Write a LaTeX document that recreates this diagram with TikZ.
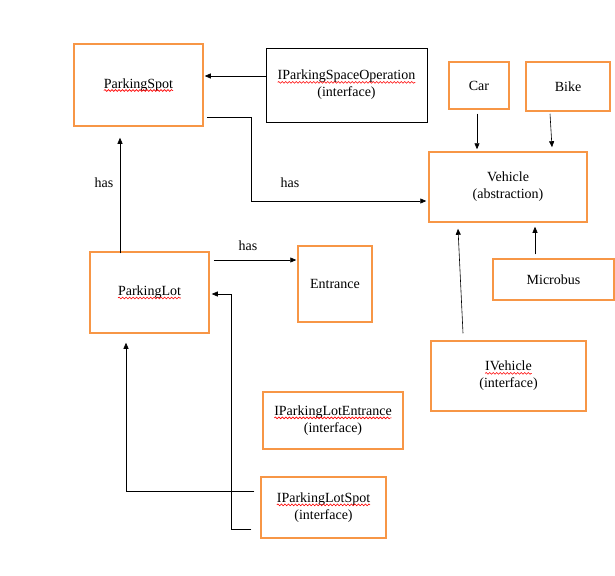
\documentclass[tikz,border=0pt]{standalone}
\usepackage{fontspec}
\setmainfont{Liberation Serif}
\usepackage{tikz}
\usetikzlibrary{arrows.meta,decorations.pathmorphing}
\definecolor{boxorange}{HTML}{F79646}
% red wavy line of the spell checker
\newcommand{\squig}[1]{\tikz[baseline=(w.base),x=1pt,y=1pt]{\node[shape=rectangle,draw=none,inner sep=0pt,outer sep=0pt,minimum width=0pt,minimum height=0pt] (w) {#1};
	\draw[red,line width=0.6pt,decorate,decoration={snake,amplitude=0.9pt,segment length=3.5pt}] ([yshift=-2.5pt]w.base west) -- ([yshift=-2.5pt]w.base east);}}

\begin{document}
\begin{tikzpicture}[x=1pt,y=-1pt,
	cls/.style={shape=rectangle,draw=boxorange,line width=1.5pt,align=center,inner sep=0pt,font=\fontsize{14}{17}\selectfont},
	ifc/.style={shape=rectangle,draw=black,line width=0.8pt,align=center,inner sep=0pt,font=\fontsize{14}{17}\selectfont},
	rel/.style={-{Triangle[length=6pt,width=5pt]},line width=0.6pt,black},
	lbl/.style={font=\fontsize{14}{16}\selectfont,inner sep=0pt}]
	\useasboundingbox (0,0) rectangle (615,575);
	
	\node[cls,minimum width=129,minimum height=82] (spot) at (138.5,85) {\squig{ParkingSpot}};
	\node[ifc,minimum width=161,minimum height=74] (spaceop) at (346.5,85) {\squig{IParkingSpaceOperation}\\(interface)};
	\node[cls,minimum width=60,minimum height=47] (car) at (479,85.5) {Car};
	\node[cls,minimum width=84,minimum height=49] (bike) at (568,86.5) {Bike};
	\node[cls,minimum width=158,minimum height=70] (vehicle) at (508,187) {Vehicle\\(abstraction)};
	\node[cls,minimum width=121,minimum height=41] (microbus) at (553.5,279.5) {Microbus};
	\node[cls,minimum width=155,minimum height=70] (ivehicle) at (508.5,376) {\squig{IVehicle}\\(interface)};
	\node[cls,minimum width=119,minimum height=81] (lot) at (149.5,292.5) {\squig{ParkingLot}};
	\node[cls,minimum width=74,minimum height=76] (entrance) at (335,284) {Entrance};
	\node[cls,minimum width=140,minimum height=57] (lotentr) at (333,420.5) {\squig{IParkingLotEntrance}\\(interface)};
	\node[cls,minimum width=125,minimum height=61] (lotspot) at (323.5,507.5) {\squig{IParkingLotSpot}\\(interface)};
	
	\node[lbl] (has1) at (104,183) {has};
	\node[lbl] (has2) at (290,183) {has};
	\node[lbl] (has3) at (248,246) {has};
	
	\path [rel] ([yshift=9pt]spaceop.west) edge ([xshift=1pt,yshift=9pt]spot.east);
	\draw [rel] ([xshift=3pt,yshift=-32pt]spot.east) -- ++(45,0) |- ([xshift=-2pt,yshift=-14pt]vehicle.west);
	\path [rel] ([xshift=-29.5pt,yshift=-2pt]lot.north) edge ([xshift=-18.5pt,yshift=-11pt]spot.south);
	\path [rel] ([xshift=4pt,yshift=32.5pt]lot.east) edge ([xshift=-1pt,yshift=24pt]entrance.west);
	\draw [rel] ([xshift=-6pt,yshift=16.5pt]lotspot.west) -| ([xshift=-23.5pt,yshift=-9pt]lot.south);
	\draw [rel] ([xshift=-9pt,yshift=-21.5pt]lotspot.west) -- ++(-20,0) |- ([xshift=2pt,yshift=-1.5pt]lot.east);
	%\path [rel] (lotentr) edge (lot);
	\path [rel] ([xshift=-2pt,yshift=-4pt]car.south) edge ([xshift=-31pt,yshift=2pt]vehicle.north);
	\path [rel] ([xshift=-18pt,yshift=-2pt]bike.south) edge ([xshift=44pt,yshift=4pt]vehicle.north);
	\path [rel] ([xshift=-18.5pt,yshift=4pt]microbus.north) edge ([xshift=27pt,yshift=-4pt]vehicle.south);
	\path [rel] ([xshift=-45.5pt,yshift=7pt]ivehicle.north) edge ([xshift=-50pt,yshift=-6pt]vehicle.south);
\end{tikzpicture}
\end{document}
